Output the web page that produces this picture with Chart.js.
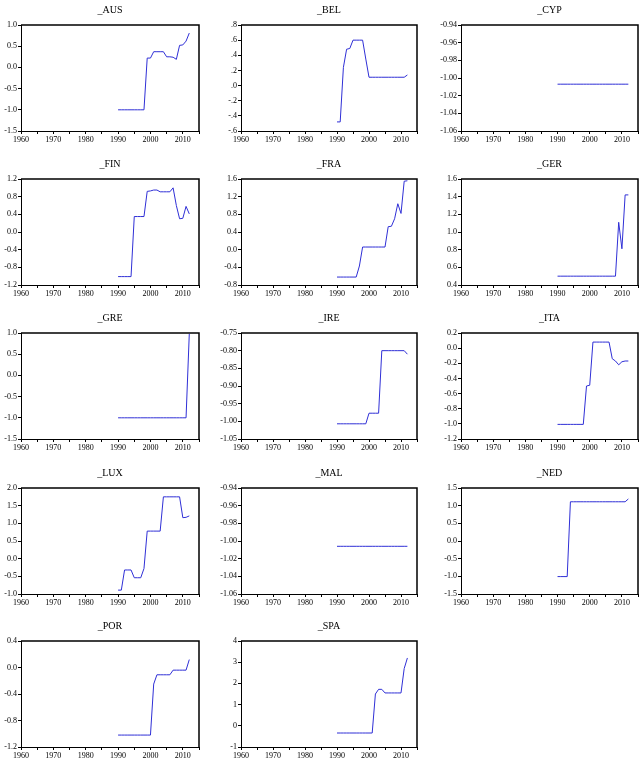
<!DOCTYPE html>
<html>
<head>
<meta charset="utf-8">
<script src="https://cdn.jsdelivr.net/npm/chart.js@4.4.1/dist/chart.umd.min.js"></script>
<style>
  html, body { margin: 0; padding: 0; background: #fff; }
  body { width: 643px; height: 779px; position: relative; overflow: hidden; }
  canvas { position: absolute; }
</style>
</head>
<body>
<script>
// years 1990-2012
const years = [1990, 1991, 1992, 1993, 1994, 1995, 1996, 1997, 1998, 1999, 2000, 2001,
               2002, 2003, 2004, 2005, 2006, 2007, 2008, 2009, 2010, 2011, 2012];

const aus = [-1.0, -1.0, -1.0, -1.0, -1.0, -1.0, -1.0, -1.0, -1.0, 0.22, 0.22, 0.37,
             0.37, 0.37, 0.37, 0.25, 0.25, 0.24, 0.19, 0.52, 0.53, 0.62, 0.81];
const bel = [-0.48, -0.48, 0.24, 0.48, 0.49, 0.60, 0.60, 0.60, 0.60, 0.35, 0.11, 0.11,
             0.11, 0.11, 0.11, 0.11, 0.11, 0.11, 0.11, 0.11, 0.11, 0.11, 0.14];
const cyp = [-1.007, -1.007, -1.007, -1.007, -1.007, -1.007, -1.007, -1.007, -1.007, -1.007, -1.007, -1.007,
             -1.007, -1.007, -1.007, -1.007, -1.007, -1.007, -1.007, -1.007, -1.007, -1.007, -1.007];
const fin = [-1.01, -1.01, -1.01, -1.01, -1.01, 0.35, 0.35, 0.35, 0.35, 0.92, 0.93, 0.95,
             0.95, 0.91, 0.91, 0.91, 0.91, 1.0, 0.6, 0.3, 0.31, 0.58, 0.41];
const fra = [-0.62, -0.62, -0.62, -0.62, -0.62, -0.62, -0.62, -0.37, 0.06, 0.06, 0.06, 0.06,
             0.06, 0.06, 0.06, 0.06, 0.52, 0.53, 0.70, 1.04, 0.82, 1.55, 1.56];
const ger = [0.5, 0.5, 0.5, 0.5, 0.5, 0.5, 0.5, 0.5, 0.5, 0.5, 0.5, 0.5,
             0.5, 0.5, 0.5, 0.5, 0.5, 0.5, 0.5, 1.11, 0.81, 1.42, 1.42];
const gre = [-1.0, -1.0, -1.0, -1.0, -1.0, -1.0, -1.0, -1.0, -1.0, -1.0, -1.0, -1.0,
             -1.0, -1.0, -1.0, -1.0, -1.0, -1.0, -1.0, -1.0, -1.0, -1.0, 0.98];
const ire = [-1.007, -1.007, -1.007, -1.007, -1.007, -1.007, -1.007, -1.007, -1.007, -1.007, -0.977, -0.977,
             -0.977, -0.977, -0.80, -0.80, -0.80, -0.80, -0.80, -0.80, -0.80, -0.80, -0.81];
const ita = [-1.007, -1.007, -1.007, -1.007, -1.007, -1.007, -1.007, -1.007, -1.007, -0.50, -0.49, 0.08,
             0.08, 0.08, 0.08, 0.08, 0.08, -0.14, -0.17, -0.22, -0.18, -0.17, -0.17];
const lux = [-0.89, -0.89, -0.32, -0.32, -0.32, -0.54, -0.54, -0.54, -0.28, 0.78, 0.78, 0.78,
             0.78, 0.78, 1.75, 1.75, 1.75, 1.75, 1.75, 1.75, 1.16, 1.17, 1.21];
const mal = [-1.006, -1.006, -1.006, -1.006, -1.006, -1.006, -1.006, -1.006, -1.006, -1.006, -1.006, -1.006,
             -1.006, -1.006, -1.006, -1.006, -1.006, -1.006, -1.006, -1.006, -1.006, -1.006, -1.006];
const ned = [-1.007, -1.007, -1.007, -1.007, 1.11, 1.11, 1.11, 1.11, 1.11, 1.11, 1.11, 1.11,
             1.11, 1.11, 1.11, 1.11, 1.11, 1.11, 1.11, 1.11, 1.11, 1.11, 1.19];
const por = [-1.02, -1.02, -1.02, -1.02, -1.02, -1.02, -1.02, -1.02, -1.02, -1.02, -1.02, -0.25,
             -0.11, -0.11, -0.11, -0.11, -0.11, -0.04, -0.04, -0.04, -0.04, -0.04, 0.12];
const spa = [-0.34, -0.34, -0.34, -0.34, -0.34, -0.34, -0.34, -0.34, -0.34, -0.34, -0.34, -0.34,
             1.5, 1.72, 1.72, 1.55, 1.55, 1.55, 1.55, 1.55, 1.55, 2.7, 3.2];

// panel list: title, series, y axis range/step, label decimals
const panels = [
  { title: '_AUS', values: aus, min: -1.5, max: 1.0, step: 0.5, dec: 1 },
  { title: '_BEL', values: bel, min: -0.6, max: 0.8, step: 0.2, dec: 1, noLead: true },
  { title: '_CYP', values: cyp, min: -1.06, max: -0.94, step: 0.02, dec: 2 },
  { title: '_FIN', values: fin, min: -1.2, max: 1.2, step: 0.4, dec: 1 },
  { title: '_FRA', values: fra, min: -0.8, max: 1.6, step: 0.4, dec: 1 },
  { title: '_GER', values: ger, min: 0.4, max: 1.6, step: 0.2, dec: 1 },
  { title: '_GRE', values: gre, min: -1.5, max: 1.0, step: 0.5, dec: 1 },
  { title: '_IRE', values: ire, min: -1.05, max: -0.75, step: 0.05, dec: 2 },
  { title: '_ITA', values: ita, min: -1.2, max: 0.2, step: 0.2, dec: 1 },
  { title: '_LUX', values: lux, min: -1.0, max: 2.0, step: 0.5, dec: 1 },
  { title: '_MAL', values: mal, min: -1.06, max: -0.94, step: 0.02, dec: 2 },
  { title: '_NED', values: ned, min: -1.5, max: 1.5, step: 0.5, dec: 1 },
  { title: '_POR', values: por, min: -1.2, max: 0.4, step: 0.4, dec: 1 },
  { title: '_SPA', values: spa, min: -1, max: 4, step: 1, dec: 0 }
];

const boxLefts = [21, 241, 461];
const boxWidths = [178, 176, 177];
const boxTops = [25, 179, 333, 488, 641];
const boxHeight = 106;
const AXIS_W = 40, TITLE_H = 25, XAXIS_H = 18, PAD_R = 6;

const frameTopRight = {
  id: 'frameTopRight',
  afterDraw(chart) {
    const { ctx, chartArea: { left, top, right, bottom } } = chart;
    ctx.save();
    ctx.strokeStyle = '#000';
    ctx.lineWidth = 1.5;
    ctx.beginPath();
    ctx.moveTo(left, top);
    ctx.lineTo(right, top);
    ctx.lineTo(right, bottom);
    ctx.stroke();
    ctx.restore();
  }
};

function formatY(v, p) {
  let s = Number(v).toFixed(p.dec);
  if (s === '-0.0' || s === '-0.00') s = s.slice(1);
  if (p.noLead) s = s.replace(/^(-?)0\./, '$1.');
  return s;
}

function makePanel(p, i) {
  const col = i % 3, row = Math.floor(i / 3);
  const canvas = document.createElement('canvas');
  const w = AXIS_W + boxWidths[col] + PAD_R;
  const h = TITLE_H + boxHeight + XAXIS_H;
  canvas.width = w;
  canvas.height = h;
  canvas.style.left = (boxLefts[col] - AXIS_W) + 'px';
  canvas.style.top = (boxTops[row] - TITLE_H) + 'px';
  canvas.style.width = w + 'px';
  canvas.style.height = h + 'px';
  document.body.appendChild(canvas);

  const font = { family: '"Liberation Serif", "Times New Roman", serif', size: 8 };

  return new Chart(canvas.getContext('2d'), {
    type: 'line',
    data: {
      datasets: [{
        data: years.map((y, k) => ({ x: y, y: p.values[k] })),
        borderColor: '#2f2fd6',
        borderWidth: 1,
        pointRadius: 0,
        tension: 0,
        fill: false
      }]
    },
    options: {
      responsive: false,
      animation: false,
      layout: { padding: { left: 0, right: PAD_R, top: 0, bottom: 0 } },
      plugins: {
        legend: { display: false },
        tooltip: { enabled: false },
        title: {
          display: true,
          text: p.title,
          fullSize: false,
          color: '#000',
          font: { family: '"Liberation Serif", "Times New Roman", serif', size: 10, weight: 'normal', lineHeight: 1.2 },
          padding: { top: 4, bottom: 9 }
        }
      },
      scales: {
        x: {
          type: 'linear',
          min: 1960,
          max: 2015,
          afterFit(scale) { scale.height = XAXIS_H; },
          grid: { drawOnChartArea: false, drawTicks: true, tickLength: 3, tickColor: '#000' },
          border: { display: true, color: '#000', width: 1 },
          ticks: {
            stepSize: 5,
            autoSkip: false,
            maxRotation: 0,
            padding: 1,
            color: '#000',
            font: font,
            callback: v => (v % 10 === 0 && v < 2015) ? String(v) : ''
          }
        },
        y: {
          min: p.min,
          max: p.max,
          afterFit(scale) { scale.width = AXIS_W; },
          grid: { drawOnChartArea: false, drawTicks: true, tickLength: 3, tickColor: '#000' },
          border: { display: true, color: '#000', width: 1 },
          ticks: {
            stepSize: p.step,
            autoSkip: false,
            padding: 1,
            color: '#000',
            font: font,
            callback: v => formatY(v, p)
          }
        }
      }
    },
    plugins: [frameTopRight]
  });
}

panels.forEach(makePanel);
</script>
</body>
</html>
